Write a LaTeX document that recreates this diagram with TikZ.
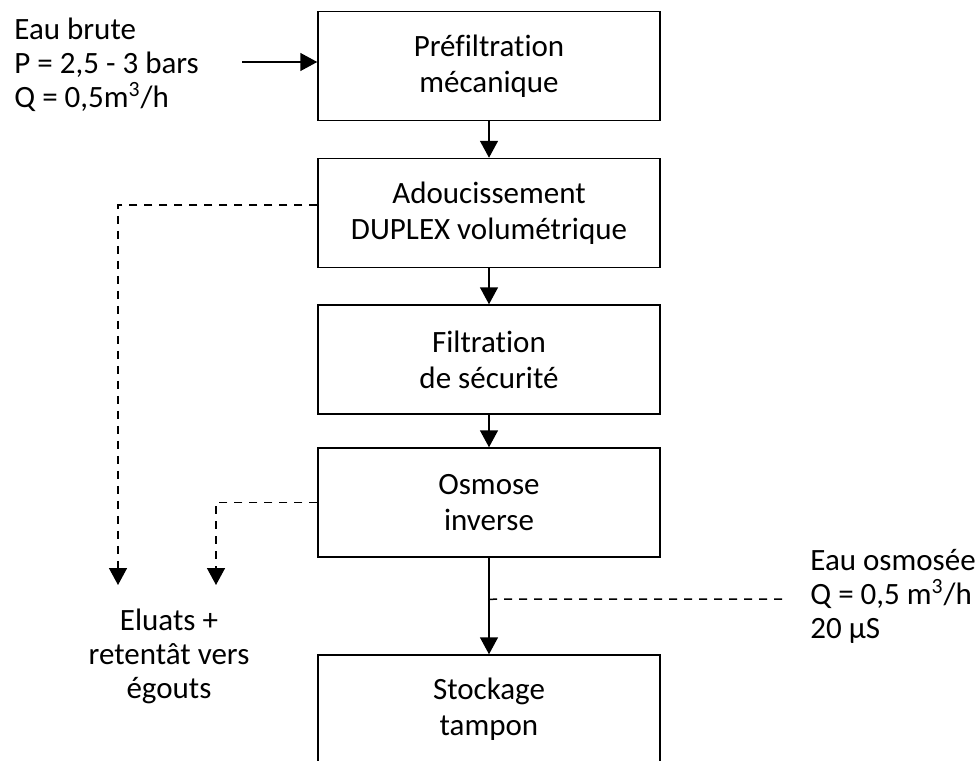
\documentclass[tikz,border=0pt]{standalone}
\usepackage{fontspec}
\setmainfont{Carlito}[Ligatures=NoCommon]
\usetikzlibrary{arrows.meta}

\begin{document}
\begin{tikzpicture}[x=0.5pt,y=-0.5pt,
  every node/.style={font=\fontsize{15.5}{18}\selectfont},
  etape/.style={draw, line width=0.75pt, minimum width=171pt, minimum height=54.5pt, align=center, inner sep=0pt},
  flux/.style={line width=0.75pt, -{Triangle[width=9pt,length=8.5pt]}},
  rejet/.style={flux, dash pattern=on 4pt off 3.5pt},
  texte/.style={inner sep=0pt, font=\fontsize{15.5}{17}\selectfont}]
\useasboundingbox (0,0) rectangle (979,760);

% etapes du traitement
\node[etape] at (489,66) (prefil) {Préfiltration\\mécanique};
\node[etape] at (489,213) (adouc) {Adoucissement\\DUPLEX volumétrique};
\node[etape] at (489,359.5) (filtr) {Filtration\\de sécurité};
\node[etape] at (489,502.5) (osmo) {Osmose\\inverse};
\node[etape] at (489,709.5) (stock) {Stockage\\tampon};

% textes (ancre sur la derniere ligne)
\node[texte, anchor=base west, align=left] at (14,107) (brute) {Eau brute\\P = 2,5 - 3 bars\\Q = 0,5m\textsuperscript{3}/h};
\node[texte, anchor=base, align=center] at (169,698) (egout) {Eluats +\\retentât vers\\égouts};
\node[texte, anchor=base west, align=left] at (810,638) (osmosee) {Eau osmosée\\Q = 0,5 m\textsuperscript{3}/h\\20 µS};

\coordinate (entree) at (242,62);
\coordinate (egout1) at (118,585);
\coordinate (egout2) at (216,585);
\coordinate (sortie) at (783,599);
\path (osmo.south) -- (stock.north) coordinate[pos=0.43] (piquage);

\draw[flux] (entree) -- (entree -| prefil.west);
\draw[flux] (prefil.south) -- (adouc.north);
\draw[flux] (adouc.south) -- (filtr.north);
\draw[flux] (filtr.south) -- (osmo.north);
\draw[flux] (osmo.south) -- (stock.north);

% eluats et retentat
\draw[rejet] ([yshift=4pt]adouc.west) -| (egout1);
\draw[rejet] (osmo.west) -| (egout2);
\draw[line width=0.75pt, dash pattern=on 4pt off 3.5pt] (piquage) -- (sortie);
\end{tikzpicture}
\end{document}
